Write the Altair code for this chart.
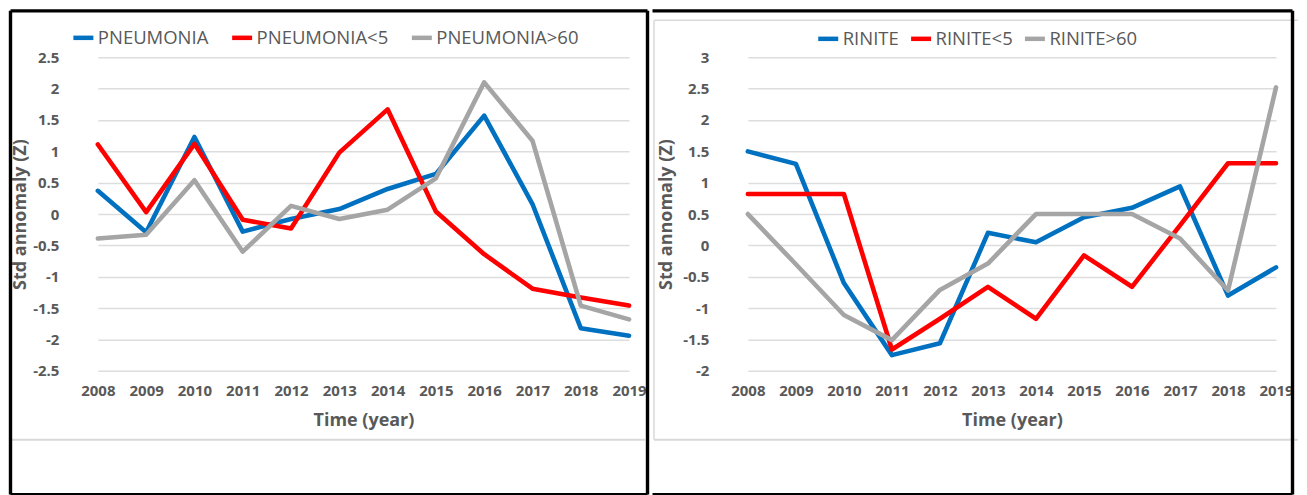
import altair as alt
import pandas as pd

# ---------------- data ----------------
years = [str(y) for y in range(2008, 2020)]

pneu_names = ["PNEUMONIA", "PNEUMONIA<5", "PNEUMONIA>60"]
pneumonia = [0.37, -0.29, 1.23, -0.28, -0.08, 0.08, 0.40, 0.64, 1.57, 0.16, -1.82, -1.94]
pneumonia_u5 = [1.11, 0.03, 1.12, -0.09, -0.23, 0.98, 1.67, 0.04, -0.64, -1.19, -1.33, -1.46]
pneumonia_o60 = [-0.39, -0.33, 0.54, -0.60, 0.13, -0.08, 0.07, 0.57, 2.10, 1.17, -1.46, -1.68]

rin_names = ["RINITE", "RINITE<5", "RINITE>60"]
rinite = [1.50, 1.30, -0.60, -1.75, -1.56, 0.20, 0.05, 0.45, 0.60, 0.94, -0.80, -0.35]
rinite_u5 = [0.82, 0.82, 0.82, -1.66, -1.17, -0.66, -1.17, -0.16, -0.66, 0.32, 1.31, 1.31]
rinite_o60 = [0.50, -0.30, -1.11, -1.51, -0.71, -0.29, 0.50, 0.50, 0.50, 0.11, -0.72, 2.52]

left_ticks = [-2.5, -2, -1.5, -1, -0.5, 0, 0.5, 1, 1.5, 2, 2.5]
right_ticks = [-2, -1.5, -1, -0.5, 0, 0.5, 1, 1.5, 2, 2.5, 3]

colors = ["#0070C0", "#FF0000", "#A5A5A5"]

FONT = "Open Sans"
TXT = "#595959"
GRID = "#DDDDDD"
BW = 3.4


def long_df(names, arrays):
    rows = []
    for i, (n, arr) in enumerate(zip(names, arrays)):
        for y, v in zip(years, arr):
            rows.append({"year": y, "series": n, "value": v, "k": i})
    return pd.DataFrame(rows)


ONE = pd.DataFrame({"k": [0]})


def rule(x1, x2, y1, y2, color="black", width=BW):
    return alt.Chart(ONE).mark_rule(color=color, strokeWidth=width, strokeCap="butt").encode(
        x=alt.value(x1), x2=alt.value(x2), y=alt.value(y1), y2=alt.value(y2)
    )


def panel(df, names, ticks, dom, xr, legend_x, legend_y, col_pad, title_x):
    color = alt.Color(
        "series:N",
        scale=alt.Scale(domain=names, range=colors),
        legend=alt.Legend(
            title=None, orient="none", legendX=legend_x, legendY=legend_y,
            direction="horizontal", columns=3, symbolType="stroke", symbolSize=400,
            symbolStrokeWidth=4.5, labelFont=FONT, labelFontSize=18.5, labelColor=TXT,
            labelOffset=2, columnPadding=col_pad, labelLimit=400, padding=0,
        ),
    )
    lines = alt.Chart(df).mark_line(strokeWidth=4.6, strokeJoin="round", strokeCap="round").encode(
        x=alt.X(
            "year:O", sort=years,
            scale=alt.Scale(type="point", range=xr, padding=0),
            axis=alt.Axis(
                title="Time (year)", labelAngle=0, ticks=False, domain=False, grid=False,
                labelFont=FONT, labelFontSize=15, labelFontWeight="bold", labelColor=TXT,
                labelPadding=13, titleFont=FONT, titleFontSize=18, titleFontWeight="bold",
                titleColor=TXT, titleY=50, titleBaseline="middle",
            ),
        ),
        y=alt.Y(
            "value:Q",
            scale=alt.Scale(domain=dom, nice=False, zero=False),
            axis=alt.Axis(
                title="Std annomaly (Z)", values=ticks, labelExpr="'' + datum.value",
                ticks=False, tickSize=0, domain=False, grid=True, gridColor=GRID, gridWidth=1.5,
                labelFont=FONT, labelFontSize=15, labelFontWeight="bold", labelColor=TXT,
                labelPadding=15, titleFont=FONT, titleFontSize=18, titleFontWeight="bold",
                titleColor=TXT, titleX=title_x, titleY=157, titleBaseline="middle",
            ),
        ),
        color=color,
        order=alt.Order("k:Q"),
        detail="series:N",
    )
    return lines


# ---------------- left panel (origin at page 73,56) ----------------
left_df = long_df(pneu_names, [pneumonia, pneumonia_u5, pneumonia_o60])
left_lines = panel(left_df, pneu_names, left_ticks, [-2.5, 2.5], [24, 556], -3, -32, 14, -53)
left = alt.layer(
    left_lines,
    rule(-62, 572, 383, 383, "#D9D9D9", 2),
    rule(-63.5, -63.5, -46.5, 438),
    rule(-63.5, 574.5, -46.5, -46.5),
    rule(574.5, 574.5, -46.5, 438),
    rule(-63.5, 574.5, 438, 438),
).properties(width=573, height=314)

# ---------------- right panel (origin at page 722,56) ----------------
right_df = long_df(rin_names, [rinite, rinite_u5, rinite_o60])
right_lines = panel(right_df, rin_names, right_ticks, [-2, 3], [24, 553], 92, -31, 2, -57.5)
right = alt.layer(
    right_lines,
    rule(-70, -70, -37, 383, "#D9D9D9", 1.5),
    rule(-70, 575, -37, -37, "#D9D9D9", 1.5),
    rule(-70, 575, 383, 383, "#D9D9D9", 2),
    rule(-71.5, 569.5, -46.5, -46.5),
    rule(569.5, 569.5, -46.5, 438),
    rule(-71.5, 569.5, 438, 438),
).properties(width=576, height=314)

chart = (
    alt.hconcat(left, right, spacing=0)
    .resolve_scale(color="independent", x="independent", y="independent")
    .resolve_legend(color="independent")
    .properties(padding=0)
    .configure_view(stroke=None)
)

chart.save("out.html", embed_options={"renderer": "svg", "actions": False})
